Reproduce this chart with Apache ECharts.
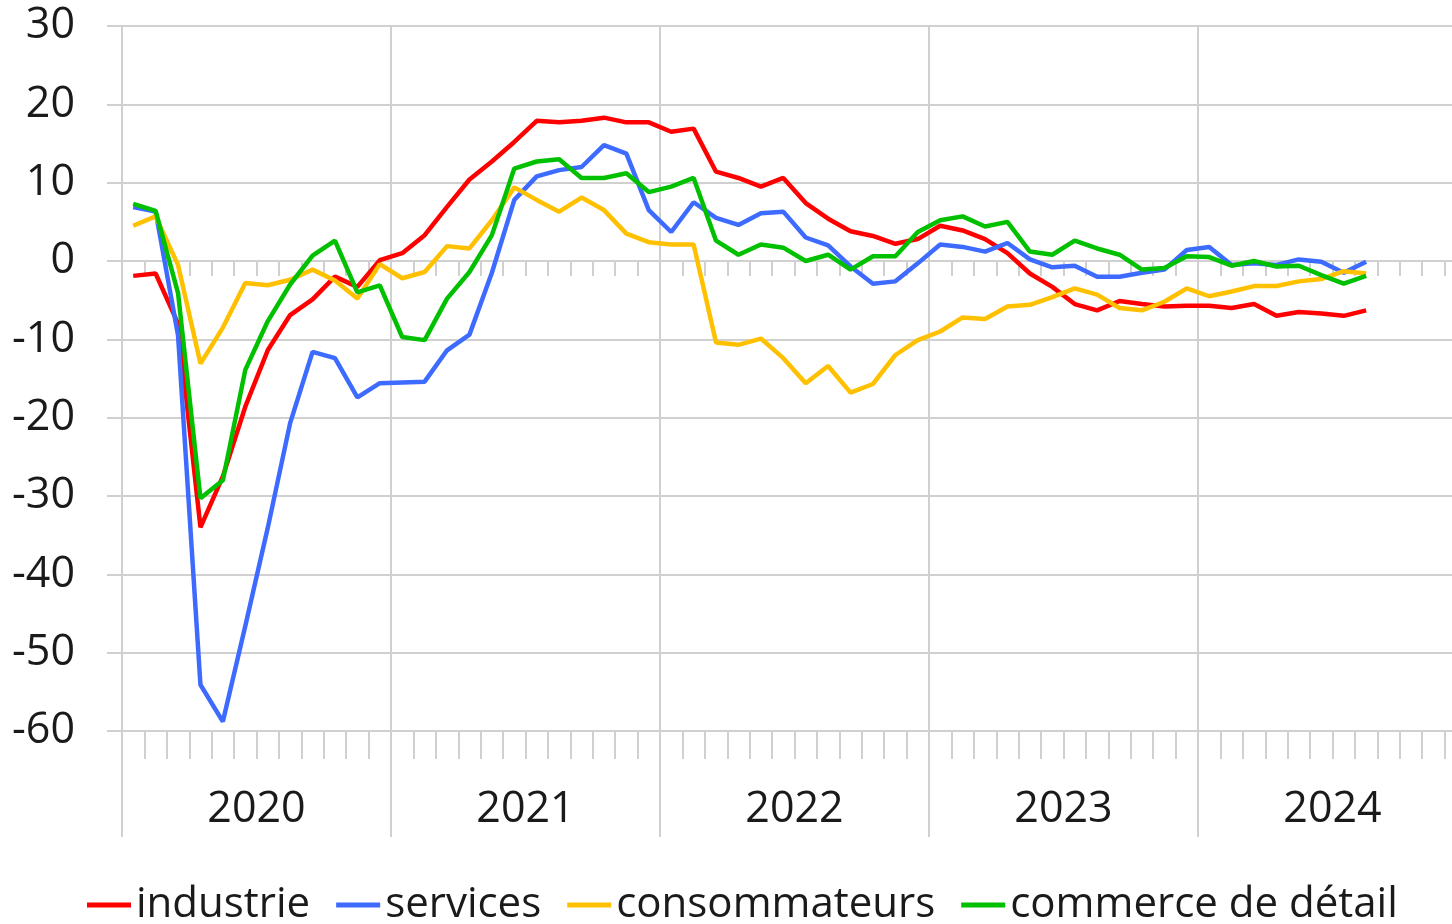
<!DOCTYPE html>
<html>
<head>
<meta charset="utf-8">
<script src="https://cdn.jsdelivr.net/npm/echarts@6/dist/echarts.min.js"></script>
<style>
  html, body { margin: 0; padding: 0; background: #ffffff; overflow: hidden; }
  #chart { width: 1452px; height: 924px; }
</style>
</head>
<body>
<div id="chart"></div>
<script>
// Monthly business / consumer climate balances, Jan 2020 – Aug 2024
const years = ['2020', '2021', '2022', '2023', '2024'];
const monthNames = ['janv.', 'févr.', 'mars', 'avr.', 'mai', 'juin', 'juil.', 'août', 'sept.', 'oct.', 'nov.', 'déc.'];
const months = years.flatMap(y => monthNames.map(m => m + ' ' + y));

const industrie = [
  -1.9, -1.6, -8.0, -34.0, -27.5, -18.6, -11.4, -6.9, -4.9, -2.0, -3.3, 0.1,
  1.0, 3.3, 6.9, 10.4, 12.7, 15.2, 17.9, 17.7, 17.9, 18.3, 17.7, 17.7,
  16.5, 16.9, 11.4, 10.6, 9.5, 10.6, 7.4, 5.4, 3.8, 3.2, 2.2, 2.8,
  4.5, 3.9, 2.8, 1.0, -1.6, -3.3, -5.5, -6.3, -5.1, -5.5, -5.8, -5.7,
  -5.7, -6.0, -5.5, -7.0, -6.5, -6.7, -7.0, -6.3
];
const services = [
  6.9, 6.3, -9.5, -54.1, -58.8, -46.6, -34.1, -20.7, -11.6, -12.4, -17.4, -15.6,
  -15.5, -15.4, -11.4, -9.4, -1.5, 7.8, 10.8, 11.6, 12.0, 14.8, 13.7, 6.5,
  3.7, 7.5, 5.5, 4.6, 6.1, 6.3, 3.0, 2.0, -0.7, -2.9, -2.6, -0.3,
  2.1, 1.8, 1.2, 2.3, 0.2, -0.8, -0.6, -2.0, -2.0, -1.5, -1.1, 1.4,
  1.8, -0.5, -0.3, -0.5, 0.2, -0.1, -1.5, -0.1
];
const consommateurs = [
  4.5, 5.7, -0.5, -13.1, -8.5, -2.8, -3.1, -2.4, -1.1, -2.5, -4.8, -0.4,
  -2.2, -1.4, 1.9, 1.6, 5.2, 9.4, 7.8, 6.3, 8.1, 6.5, 3.5, 2.4,
  2.1, 2.1, -10.4, -10.7, -9.9, -12.4, -15.6, -13.4, -16.8, -15.7, -12.0, -10.1,
  -9.0, -7.2, -7.4, -5.8, -5.6, -4.6, -3.5, -4.3, -6.0, -6.3, -5.2, -3.5,
  -4.5, -3.9, -3.2, -3.2, -2.6, -2.3, -1.3, -1.6
];
const commerceDeDetail = [
  7.3, 6.4, -4.1, -30.3, -28.0, -13.9, -7.7, -3.0, 0.7, 2.6, -4.0, -3.1,
  -9.7, -10.1, -4.8, -1.4, 3.3, 11.8, 12.7, 13.0, 10.6, 10.6, 11.2, 8.8,
  9.5, 10.6, 2.6, 0.8, 2.1, 1.7, 0.0, 0.8, -1.1, 0.6, 0.6, 3.7,
  5.2, 5.7, 4.4, 5.0, 1.2, 0.8, 2.6, 1.6, 0.8, -1.1, -0.9, 0.6,
  0.5, -0.6, 0.0, -0.7, -0.6, -1.8, -2.9, -1.9
];

const seriesNames = ['industrie', 'services', 'consommateurs', 'commerce de détail'];
const seriesData = [industrie, services, consommateurs, commerceDeDetail];
const seriesColors = ['#ff0000', '#3e6bff', '#ffc000', '#00c000'];

const GRID = '#d0d0d0';
const FONT = '"Open Sans", "DejaVu Sans", sans-serif';
const TEXT = '#1a1a1a';
const FONT_SIZE = 43;

const chart = echarts.init(document.getElementById('chart'), null, { renderer: 'canvas' });

chart.setOption({
  animation: false,
  backgroundColor: '#ffffff',
  textStyle: { fontFamily: FONT },
  grid: {
    left: 122, top: 26, bottom: 193, right: -15,
    containLabel: false,
    outerBoundsMode: 'none'
  },
  legend: {
    data: seriesNames,
    left: 87,
    top: 884,
    padding: 0,
    icon: 'rect',
    itemWidth: 44,
    itemHeight: 5,
    itemGap: 26,
    textStyle: { fontFamily: FONT, fontSize: 42, color: TEXT }
  },
  xAxis: [
    {
      // months: carries the series, ticks hanging from the bottom line
      type: 'category',
      data: months,
      position: 'bottom',
      boundaryGap: true,
      axisLine: { show: true, onZero: false, lineStyle: { color: GRID, width: 2 } },
      axisTick: { show: true, interval: 0, length: 28, lineStyle: { color: GRID, width: 2 } },
      axisLabel: { show: false },
      splitLine: { show: false }
    },
    {
      // years: labels and year separators
      type: 'category',
      data: years,
      position: 'bottom',
      boundaryGap: true,
      axisLine: { show: false, onZero: false },
      axisTick: { show: true, interval: 0, length: 106, lineStyle: { color: GRID, width: 2 } },
      axisLabel: { show: true, interval: 0, margin: 57, fontSize: FONT_SIZE, fontFamily: FONT, color: TEXT },
      splitLine: { show: true, interval: 0, lineStyle: { color: GRID, width: 2 } }
    },
    {
      // months again, drawn on the zero line
      type: 'category',
      data: months,
      position: 'bottom',
      boundaryGap: true,
      axisLine: { show: true, onZero: true, onZeroAxisIndex: 0, lineStyle: { color: GRID, width: 2 } },
      axisTick: { show: true, interval: 0, length: 15, lineStyle: { color: GRID, width: 2 } },
      axisLabel: { show: false },
      splitLine: { show: false }
    }
  ],
  yAxis: {
    type: 'value',
    min: -60,
    max: 30,
    interval: 10,
    axisLine: { show: true, lineStyle: { color: GRID, width: 2 } },
    axisTick: { show: true, length: 15, lineStyle: { color: GRID, width: 2 } },
    axisLabel: { margin: 47, fontSize: FONT_SIZE, fontFamily: FONT, color: TEXT },
    splitLine: { show: true, lineStyle: { color: GRID, width: 2 } }
  },
  series: seriesNames.map((name, i) => ({
    name: name,
    type: 'line',
    xAxisIndex: 0,
    data: seriesData[i],
    symbol: 'none',
    color: seriesColors[i],
    lineStyle: { color: seriesColors[i], width: 4.5 },
    emphasis: { disabled: true }
  }))
});
</script>
</body>
</html>
